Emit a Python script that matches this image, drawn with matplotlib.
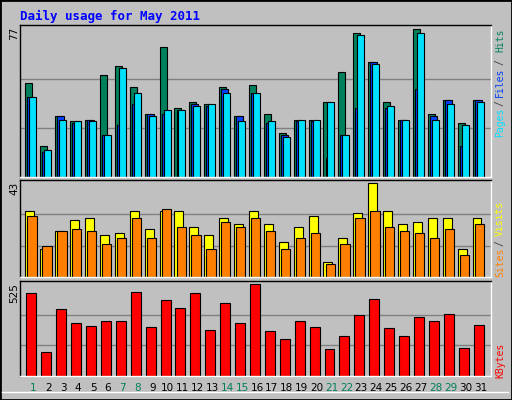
import matplotlib
matplotlib.use("Agg")
import matplotlib.pyplot as plt
import numpy as np

days = list(range(1, 32))
weekend = [1, 7, 8, 14, 15, 21, 22, 28, 29]
hits  = [49,16,32,29,30,53,58,47,33,68,36,39,38,47,32,48,33,23,30,30,39,55,75,60,39,30,77,33,40,28,40]
files = [42,13,32,28,30,22,27,38,33,33,35,38,37,46,32,44,28,22,29,29,10,22,36,60,36,30,46,32,40,16,40]
pages = [42,14,30,29,29,22,57,44,32,35,35,37,38,44,29,44,29,21,30,30,39,22,74,59,37,30,75,30,38,27,39]
visits = [30,13,21,26,27,19,20,30,22,30,30,23,19,27,24,30,24,16,23,28,7,18,29,43,30,24,25,27,27,13,27]
sites  = [28,14,21,22,21,15,18,27,18,31,23,19,13,25,23,27,21,13,18,20,6,15,27,30,23,21,20,18,22,10,24]
kbytes = [473,138,381,300,283,312,312,479,277,433,387,473,260,415,300,525,254,213,312,277,156,225,346,438,271,225,335,312,352,162,288]

C_HITS, C_FILES, C_PAGES = "#00805C", "#0040FF", "#00E0FF"
C_VIS, C_SITES, C_KB = "#FFFF00", "#FF8000", "#FF0000"
BG = "#C0C0C0"
W, H = 512, 400

fig = plt.figure(figsize=(5.12, 4.0), dpi=100, facecolor=BG)
fig.add_artist(plt.Rectangle((0, 0), 1, 1, transform=fig.transFigure, fill=False, ec="black", lw=2))
fig.add_artist(plt.Line2D([2/W, 508/W], [(H-392)/H, (H-392)/H], transform=fig.transFigure, color="white", lw=1))

def px(x0, y0, x1, y1):
    return [x0/W, 1-y1/H, (x1-x0)/W, (y1-y0)/H]

x = np.array(days)
def setup(ax, top):
    ax.set_facecolor(BG)
    ax.set_xlim(0.1, 31.7)
    ax.set_ylim(0, top*1.03)
    for g in (top/3, 2*top/3):
        ax.axhline(g, color="#808080", lw=1, zorder=0)
    ax.set_xticks([]); ax.set_yticks([])
    for s in ax.spines.values():
        s.set_color("black"); s.set_linewidth(1)
    ax.spines["right"].set_color("white"); ax.spines["bottom"].set_color("white")

ax1 = fig.add_axes(px(20, 25, 491, 177))
setup(ax1, 77)
kw = dict(align="edge", ec="black", lw=0.8)
ax1.bar(x-0.54, hits, 0.47, color=C_HITS, **kw)
ax1.bar(x-0.40, files, 0.47, color=C_FILES, **kw)
ax1.bar(x-0.27, pages, 0.47, color=C_PAGES, **kw)

ax2 = fig.add_axes(px(20, 180, 491, 277))
setup(ax2, 43)
ax2.bar(x-0.54, visits, 0.6, color=C_VIS, **kw)
ax2.bar(x-0.40, sites, 0.62, color=C_SITES, **kw)

ax3 = fig.add_axes(px(20, 281, 491, 376))
setup(ax3, 525)
ax3.bar(x-0.47, kbytes, 0.67, color=C_KB, **kw)

for d in days:
    ax3.text(d, -0.07, str(d), transform=ax3.get_xaxis_transform(), ha="center", va="top",
             fontsize=7.5, color=C_HITS if d in weekend else "black")

fig.text(20/W, 1-16/H, "Daily usage for May 2011", fontsize=9, fontweight="bold",
         family="DejaVu Sans Mono", color="#0000FF", va="center", ha="left")

def ylab(ax, txt):
    fig.text(14/W, ax.get_position().y1 - 2/H, txt, rotation=90, ha="center", va="top", fontsize=7.5)
ylab(ax1, "77"); ylab(ax2, "43"); ylab(ax3, "525")

def rlab(y, txt, color):
    fig.text(500/W, 1-y/H, txt, rotation=90, ha="center", va="center", fontsize=7,
             family="DejaVu Sans Mono", color=color)
rlab(122, "Pages", C_PAGES); rlab(103, "/", "#404040"); rlab(82, "Files", C_FILES)
rlab(62, "/", "#404040"); rlab(40, "Hits", C_HITS)
rlab(262, "Sites", C_SITES); rlab(243, "/", "#404040"); rlab(218, "Visits", C_VIS)
rlab(360, "KBytes", C_KB)

fig.savefig("out.png", dpi=100, facecolor=BG)
